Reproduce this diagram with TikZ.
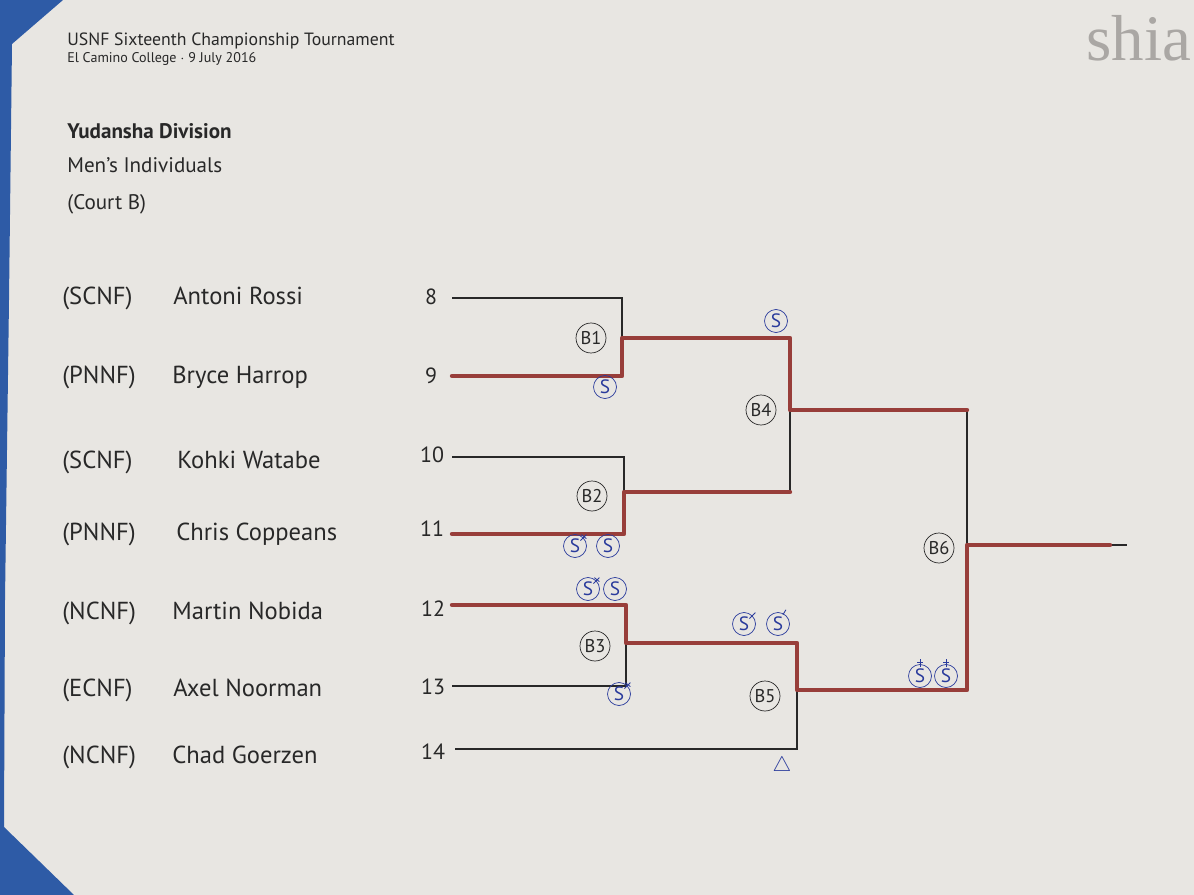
\documentclass[tikz,border=0pt]{standalone}
\usepackage{fontspec}
\setmainfont{PT Sans}
\newfontfamily\logofont{Liberation Serif}
\usepackage{xcolor}
\usetikzlibrary{positioning}
\definecolor{paper}{HTML}{E8E6E2}
\definecolor{folder}{HTML}{2E5BA6}
\definecolor{marker}{HTML}{983E3A}
\definecolor{ink}{HTML}{2A3B9C}
\definecolor{print}{HTML}{282828}
\definecolor{logo}{HTML}{AAA7A4}

\begin{document}
\begin{tikzpicture}[x=0.02cm, y=-0.02cm,
  txt/.style={anchor=west, inner sep=0pt, text=print, text height=9pt, text depth=0pt, font=\fontsize{14}{16}\selectfont},
  seed/.style={inner sep=0pt, text=print, text height=8pt, text depth=0pt, font=\fontsize{12.5}{14}\selectfont},
  bout/.style={draw=print, circle, thin, inner sep=0pt, minimum size=0.6cm, text=print, font=\fontsize{10.5}{12}\selectfont},
  smark/.style={draw=ink, circle, thin, inner sep=0pt, minimum size=0.46cm, text=ink, font=\fontsize{11}{12}\selectfont},
  nick/.style={ink, line width=0.5pt},
  line/.style={print, line width=0.6pt},
  win/.style={marker, line width=2.5pt, line join=round, line cap=round}
]
  \useasboundingbox (0,0) rectangle (1194,895);
  \fill[paper] (0,0) rectangle (1194,895);
  \fill[folder] (0,0) -- (63,0) -- (12,44) -- (9,300) -- (5,600) -- (4,827) -- (74,895) -- (0,895) -- cycle;

  % header
  \node[anchor=west, inner sep=0pt, text=print, font=\fontsize{10.1}{12}\selectfont] (title) at (67,41) {USNF Sixteenth Championship Tournament};
  \node[anchor=west, inner sep=0pt, text=print, font=\fontsize{8}{10}\selectfont] (venue) at (67,59) {El Camino College $\cdot$ 9 July 2016};
  \node[txt, font=\fontsize{12}{14}\selectfont\bfseries] (div) at (67,131) {Yudansha Division};
  \node[txt, font=\fontsize{12}{14}\selectfont] (event) at (67,165) {Men’s Individuals};
  \node[txt, font=\fontsize{12}{14}\selectfont] (court) at (67,202) {(Court B)};
  \node[anchor=base west, inner sep=0pt, text=logo, font=\logofont\fontsize{37}{40}\selectfont] (logo) at (1086,61) {shia};

  % entries
  \node[txt] (f8) at (62,297) {(SCNF)};
  \node[txt] (f9) at (62,376) {(PNNF)};
  \node[txt] (f10) at (62,461) {(SCNF)};
  \node[txt] (f11) at (62,533) {(PNNF)};
  \node[txt] (f12) at (62,612) {(NCNF)};
  \node[txt] (f13) at (62,689) {(ECNF)};
  \node[txt] (f14) at (62,756) {(NCNF)};
  \node[txt] (p8) at (173,297) {Antoni Rossi};
  \node[txt] (p9) at (172,376) {Bryce Harrop};
  \node[txt] (p10) at (177,461) {Kohki Watabe};
  \node[txt] (p11) at (176,533) {Chris Coppeans};
  \node[txt] (p12) at (172,612) {Martin Nobida};
  \node[txt] (p13) at (173,689) {Axel Noorman};
  \node[txt] (p14) at (172,756) {Chad Goerzen};
  \node[seed] (n8) at (431,297) {8};
  \node[seed] (n9) at (431,376) {9};
  \node[seed] (n10) at (432,455) {10};
  \node[seed] (n11) at (432,529) {11};
  \node[seed] (n12) at (433,609) {12};
  \node[seed] (n13) at (433,687) {13};
  \node[seed] (n14) at (433,752) {14};

  % bracket
  \coordinate (a8) at (452,298);
  \coordinate (a9) at (452,376);
  \coordinate (a10) at (452,457);
  \coordinate (a11) at (452,534);
  \coordinate (a12) at (452,605);
  \coordinate (a13) at (452,686);
  \coordinate (a14) at (455,749);
  \coordinate (j1) at (622,338);
  \coordinate (j2) at (624,492);
  \coordinate (j3) at (626,643);
  \coordinate (j4) at (790,410);
  \coordinate (j5) at (797,690);
  \coordinate (j6) at (967,545);
  \coordinate (top6) at (967,410);
  \coordinate (bot4) at (790,492);
  \coordinate (fin) at (1127,545);
  \coordinate (fin0) at (1110,545);

  \draw[line] (a8) -| (j1) |- (a9);
  \draw[line] (a10) -| (j2) |- (a11);
  \draw[line] (a12) -| (j3) |- (a13);
  \draw[line] (j1) -| (j4) |- (j2);
  \draw[line] (j3) -| (j5) |- (a14);
  \draw[line] (j4) -| (j6) |- (j5);
  \draw[line] (j6) -- (fin);

  \draw[win] (a9) -| (j1) -| (j4) -- (top6);
  \draw[win] (a11) -| (j2) -- (bot4);
  \draw[win] (a12) -| (j3) -| (j5) -| (j6) -- (fin0);

  \node[bout] (B1) at (591,338) {B1};
  \node[bout] (B2) at (592,496) {B2};
  \node[bout] (B3) at (595,646) {B3};
  \node[bout] (B4) at (761,410) {B4};
  \node[bout] (B5) at (765,696) {B5};
  \node[bout] (B6) at (939,548) {B6};

  % scoring marks
  \node[smark] (s1) at (605,387) {S};
  \node[smark] (s2a) at (575,546) {S};
  \node[smark] (s2b) at (608,546) {S};
  \node[smark] (s3a) at (588,589) {S};
  \node[smark] (s3b) at (615,589) {S};
  \node[smark] (s3c) at (619,694) {S};
  \node[smark] (s4) at (776,321) {S};
  \node[smark] (s5a) at (744,624) {S};
  \node[smark] (s5b) at (778,624) {S};
  \node[smark] (s6a) at (920,676) {S};
  \node[smark] (s6b) at (946,676) {S};
  \node[inner sep=0pt, text=ink, font=\fontsize{12}{14}\selectfont] (foul) at (782,766) {$\triangle$};

  \draw[nick] (s2a.45) ++(-3,3) -- ++(6,-6) (s2a.45) ++(-2,-3) -- ++(5,4);
  \draw[nick] (s3a.45) ++(-3,3) -- ++(6,-6) (s3a.45) ++(-2,-3) -- ++(5,4);
  \draw[nick] (s3c.45) ++(-3,3) -- ++(6,-6) (s3c.45) ++(-2,-3) -- ++(5,4);
  \draw[nick] (s5a.45) ++(-3,3) -- ++(6,-6);
  \draw[nick] (s5b.60) ++(-1,1) -- ++(3,-5);
  \draw[nick] (s6a.north) ++(0,3) -- ++(0,-8) (s6a.north) ++(-3,-2) -- ++(6,0);
  \draw[nick] (s6b.north) ++(0,3) -- ++(0,-8) (s6b.north) ++(-3,-2) -- ++(6,0);
\end{tikzpicture}
\end{document}
